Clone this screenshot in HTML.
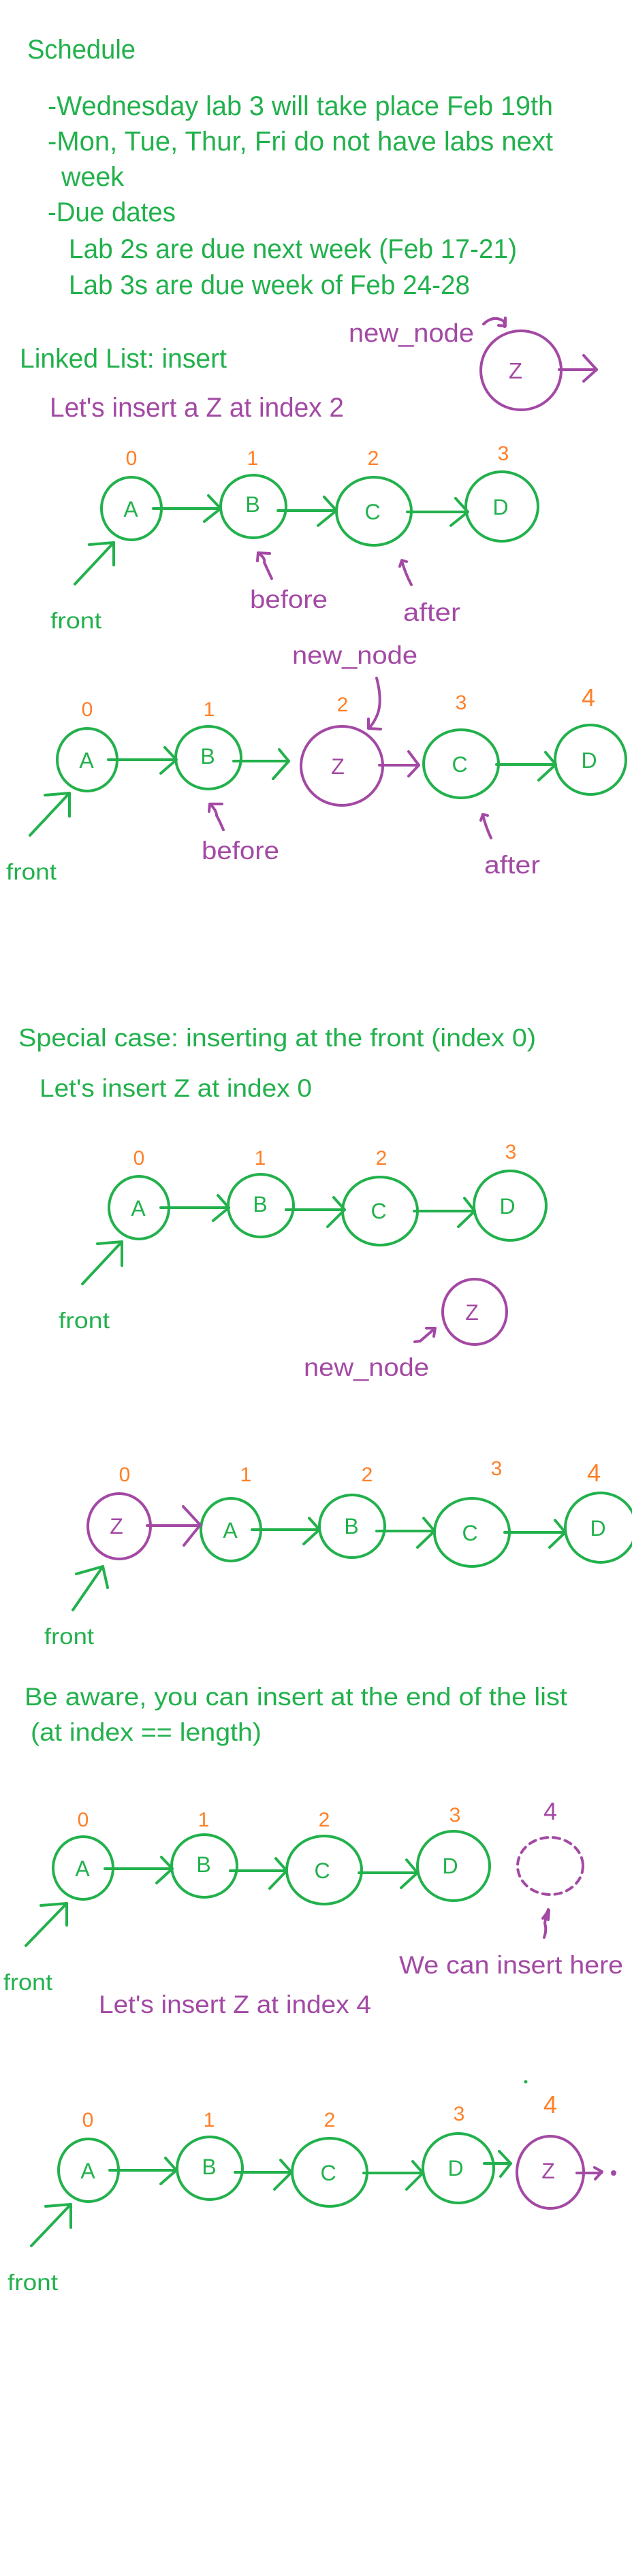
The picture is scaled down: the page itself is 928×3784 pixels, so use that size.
<!DOCTYPE html>
<html><head><meta charset="utf-8"><style>
html,body{margin:0;padding:0;background:#fff;}
svg{display:block;}
text{font-family:"Liberation Sans",sans-serif;}
.g{fill:#22b14c}.p{fill:#a349a4}.o{fill:#ff7f27}
.gs{stroke:#22b14c;stroke-width:4;fill:none;stroke-linecap:round;stroke-linejoin:round}
.ps{stroke:#a349a4;stroke-width:4;fill:none;stroke-linecap:round;stroke-linejoin:round}
</style></head><body>
<svg width="928" height="3784" viewBox="0 0 928 3784" xmlns="http://www.w3.org/2000/svg">
<!-- Schedule -->
<text class="g" x="40" y="86" font-size="40" textLength="159" lengthAdjust="spacingAndGlyphs">Schedule</text>
<text class="g" x="70" y="169" font-size="40" textLength="742" lengthAdjust="spacingAndGlyphs">-Wednesday lab 3 will take place Feb 19th</text>
<text class="g" x="70" y="221" font-size="40" textLength="742" lengthAdjust="spacingAndGlyphs">-Mon, Tue, Thur, Fri do not have labs next</text>
<text class="g" x="90" y="273" font-size="40" textLength="92" lengthAdjust="spacingAndGlyphs">week</text>
<text class="g" x="70" y="325" font-size="40" textLength="188" lengthAdjust="spacingAndGlyphs">-Due dates</text>
<text class="g" x="101" y="379" font-size="40" textLength="658" lengthAdjust="spacingAndGlyphs">Lab 2s are due next week (Feb 17-21)</text>
<text class="g" x="101" y="432" font-size="40" textLength="589" lengthAdjust="spacingAndGlyphs">Lab 3s are due week of Feb 24-28</text>

<!-- Linked list header -->
<text class="p" x="512" y="502" font-size="38" textLength="184" lengthAdjust="spacingAndGlyphs">new_node</text>
<path class="ps" d="M710,476 Q725,462 740,472 L741,480 M732,478 L742,479 L742,467" stroke-width="3"/>
<ellipse class="ps" cx="765" cy="544" rx="59" ry="58"/>
<text class="p" x="757" y="556" font-size="33" text-anchor="middle">Z</text>
<line class="ps" x1="821" y1="543" x2="876" y2="543"/>
<polyline class="ps" points="857,522 876,543 857,560"/>
<text class="g" x="29" y="540" font-size="40" textLength="304" lengthAdjust="spacingAndGlyphs">Linked List: insert</text>
<text class="p" x="73" y="612" font-size="40" textLength="432" lengthAdjust="spacingAndGlyphs">Let's insert a Z at index 2</text>

<!-- Row 1 -->
<g font-size="30" text-anchor="middle">
<text class="o" x="193" y="683">0</text><text class="o" x="371" y="683">1</text><text class="o" x="548" y="683">2</text><text class="o" x="739" y="676">3</text>
</g>
<g font-size="32" text-anchor="middle">
<text class="g" x="192" y="759">A</text><text class="g" x="371" y="752">B</text><text class="g" x="547" y="763">C</text><text class="g" x="735" y="756">D</text>
</g>
<ellipse class="gs" cx="193" cy="747" rx="44" ry="46"/>
<ellipse class="gs" cx="372" cy="744" rx="48" ry="46"/>
<ellipse class="gs" cx="549" cy="751" rx="55" ry="50"/>
<ellipse class="gs" cx="737" cy="744" rx="53" ry="51"/>
<line class="gs" x1="225" y1="747" x2="324" y2="747"/><polyline class="gs" points="306,728 324,747 300,766"/>
<line class="gs" x1="408" y1="750" x2="494" y2="750"/><polyline class="gs" points="476,730 494,750 467,772"/>
<line class="gs" x1="598" y1="752" x2="687" y2="752"/><polyline class="gs" points="669,732 687,752 662,772"/>
<line class="gs" x1="110" y1="858" x2="167" y2="797"/><polyline class="gs" points="131,800 167,797 167,830"/>
<text class="g" x="74" y="923" font-size="33" textLength="75" lengthAdjust="spacingAndGlyphs">front</text>
<path class="ps" d="M399,850 Q392,835 388,826 Q390,820 379,812 M378,824 L379,812 L396,813" stroke-width="3"/>
<text class="p" x="367" y="893" font-size="37" textLength="114" lengthAdjust="spacingAndGlyphs">before</text>
<path class="ps" d="M604,859 Q595,842 590,824 M587,832 L590,823 L597,825" stroke-width="3"/>
<text class="p" x="592" y="912" font-size="37" textLength="84" lengthAdjust="spacingAndGlyphs">after</text>

<!-- Row 2 -->
<text class="p" x="429" y="975" font-size="37" textLength="184" lengthAdjust="spacingAndGlyphs">new_node</text>
<path class="ps" d="M553,996 Q562,1030 554,1050 Q548,1064 541,1070 M541,1056 L541,1070 L559,1071" stroke-width="3"/>
<g font-size="30" text-anchor="middle">
<text class="o" x="128" y="1052">0</text><text class="o" x="307" y="1052">1</text><text class="o" x="503" y="1045">2</text><text class="o" x="677" y="1042">3</text><text class="o" x="864" y="1037" font-size="36">4</text>
</g>
<g font-size="32" text-anchor="middle">
<text class="g" x="127" y="1128">A</text><text class="g" x="305" y="1122">B</text><text class="p" x="496" y="1137">Z</text><text class="g" x="675" y="1134">C</text><text class="g" x="865" y="1128">D</text>
</g>
<ellipse class="gs" cx="128" cy="1116" rx="44" ry="46"/>
<ellipse class="gs" cx="306" cy="1113" rx="48" ry="46"/>
<ellipse class="ps" cx="502" cy="1125" rx="60" ry="58"/>
<ellipse class="gs" cx="677" cy="1122" rx="55" ry="50"/>
<ellipse class="gs" cx="867" cy="1116" rx="52" ry="51"/>
<line class="gs" x1="159" y1="1116" x2="259" y2="1116"/><polyline class="gs" points="242,1098 259,1116 236,1136"/>
<line class="gs" x1="343" y1="1118" x2="424" y2="1118"/><polyline class="gs" points="410,1101 424,1118 401,1144"/>
<line class="ps" x1="557" y1="1124" x2="615" y2="1124"/><polyline class="ps" points="600,1104 615,1124 600,1140"/>
<line class="gs" x1="729" y1="1123" x2="816" y2="1123"/><polyline class="gs" points="801,1105 816,1123 791,1146"/>
<line class="gs" x1="44" y1="1227" x2="102" y2="1165"/><polyline class="gs" points="66,1168 102,1165 102,1199"/>
<text class="g" x="9" y="1292" font-size="33" textLength="74" lengthAdjust="spacingAndGlyphs">front</text>
<path class="ps" d="M328,1219 Q322,1205 318,1198 Q318,1190 308,1181 M307,1192 L308,1181 L326,1181" stroke-width="3"/>
<text class="p" x="296" y="1262" font-size="37" textLength="114" lengthAdjust="spacingAndGlyphs">before</text>
<path class="ps" d="M721,1231 Q713,1214 709,1197 M706,1205 L709,1196 L716,1198" stroke-width="3"/>
<text class="p" x="711" y="1283" font-size="37" textLength="82" lengthAdjust="spacingAndGlyphs">after</text>

<!-- Special case -->
<text class="g" x="27" y="1537" font-size="37" textLength="760" lengthAdjust="spacingAndGlyphs">Special case: inserting at the front (index 0)</text>
<text class="g" x="58" y="1611" font-size="37" textLength="400" lengthAdjust="spacingAndGlyphs">Let's insert Z at index 0</text>
<g font-size="30" text-anchor="middle">
<text class="o" x="204" y="1711">0</text><text class="o" x="382" y="1711">1</text><text class="o" x="560" y="1711">2</text><text class="o" x="750" y="1702">3</text>
</g>
<g font-size="32" text-anchor="middle">
<text class="g" x="203" y="1786">A</text><text class="g" x="382" y="1780">B</text><text class="g" x="556" y="1790">C</text><text class="g" x="745" y="1783">D</text>
<text class="p" x="693" y="1939">Z</text>
</g>
<ellipse class="gs" cx="204" cy="1774" rx="44" ry="46"/>
<ellipse class="gs" cx="383" cy="1771" rx="48" ry="46"/>
<ellipse class="gs" cx="558" cy="1779" rx="55" ry="50"/>
<ellipse class="gs" cx="749" cy="1771" rx="53" ry="51"/>
<line class="gs" x1="236" y1="1774" x2="336" y2="1774"/><polyline class="gs" points="320,1756 336,1774 313,1793"/>
<line class="gs" x1="420" y1="1777" x2="506" y2="1777"/><polyline class="gs" points="490,1759 506,1777 481,1802"/>
<line class="gs" x1="608" y1="1779" x2="697" y2="1779"/><polyline class="gs" points="682,1760 697,1779 673,1802"/>
<line class="gs" x1="121" y1="1886" x2="179" y2="1824"/><polyline class="gs" points="143,1827 179,1824 179,1859"/>
<text class="g" x="86" y="1951" font-size="33" textLength="75" lengthAdjust="spacingAndGlyphs">front</text>
<ellipse class="ps" cx="697" cy="1927" rx="47" ry="48"/>
<path class="ps" d="M609,1971 L617,1970 L639,1951 M626,1951 L639,1951 L637,1963" stroke-width="3"/>
<text class="p" x="446" y="2021" font-size="37" textLength="184" lengthAdjust="spacingAndGlyphs">new_node</text>

<!-- Row 4 -->
<g font-size="30" text-anchor="middle">
<text class="o" x="183" y="2176">0</text><text class="o" x="361" y="2176">1</text><text class="o" x="539" y="2176">2</text><text class="o" x="729" y="2167">3</text><text class="o" x="872" y="2176" font-size="36">4</text>
</g>
<g font-size="32" text-anchor="middle">
<text class="p" x="171" y="2253">Z</text><text class="g" x="338" y="2259">A</text><text class="g" x="516" y="2253">B</text><text class="g" x="690" y="2263">C</text><text class="g" x="878" y="2256">D</text>
</g>
<ellipse class="ps" cx="175" cy="2242" rx="46" ry="48"/>
<ellipse class="gs" cx="339" cy="2247" rx="44" ry="46"/>
<ellipse class="gs" cx="517" cy="2242" rx="48" ry="46"/>
<ellipse class="gs" cx="693" cy="2251" rx="55" ry="50"/>
<ellipse class="gs" cx="882" cy="2244" rx="52" ry="51"/>
<line class="ps" x1="216" y1="2241" x2="294" y2="2241"/><polyline class="ps" points="269,2213 294,2240 270,2270"/>
<line class="gs" x1="370" y1="2247" x2="469" y2="2247"/><polyline class="gs" points="454,2230 469,2247 446,2268"/>
<line class="gs" x1="553" y1="2249" x2="638" y2="2249"/><polyline class="gs" points="622,2230 638,2249 613,2273"/>
<line class="gs" x1="741" y1="2251" x2="830" y2="2251"/><polyline class="gs" points="815,2233 830,2251 807,2273"/>
<line class="gs" x1="107" y1="2365" x2="151" y2="2301"/><polyline class="gs" points="112,2312 151,2301 158,2332"/>
<text class="g" x="65" y="2415" font-size="33" textLength="73" lengthAdjust="spacingAndGlyphs">front</text>

<text class="g" x="36" y="2505" font-size="37" textLength="797" lengthAdjust="spacingAndGlyphs">Be aware, you can insert at the end of the list</text>
<text class="g" x="45" y="2557" font-size="37" textLength="339" lengthAdjust="spacingAndGlyphs">(at index == length)</text>

<!-- Row 5 -->
<g font-size="30" text-anchor="middle">
<text class="o" x="122" y="2683">0</text><text class="o" x="299" y="2683">1</text><text class="o" x="476" y="2683">2</text><text class="o" x="668" y="2676">3</text><text class="p" x="808" y="2673" font-size="36">4</text>
</g>
<g font-size="32" text-anchor="middle">
<text class="g" x="121" y="2756">A</text><text class="g" x="299" y="2750">B</text><text class="g" x="473" y="2759">C</text><text class="g" x="661" y="2752">D</text>
</g>
<ellipse class="gs" cx="122" cy="2744" rx="44" ry="46"/>
<ellipse class="gs" cx="300" cy="2741" rx="48" ry="46"/>
<ellipse class="gs" cx="476" cy="2747" rx="55" ry="50"/>
<ellipse class="gs" cx="666" cy="2741" rx="53" ry="51"/>
<ellipse class="ps" cx="808" cy="2741" rx="48" ry="42" stroke-dasharray="10,8" stroke-width="3"/>
<line class="gs" x1="154" y1="2745" x2="253" y2="2745"/><polyline class="gs" points="237,2728 253,2745 230,2766"/>
<line class="gs" x1="338" y1="2748" x2="421" y2="2748"/><polyline class="gs" points="405,2730 421,2748 396,2774"/>
<line class="gs" x1="527" y1="2751" x2="613" y2="2751"/><polyline class="gs" points="597,2732 613,2751 589,2773"/>
<line class="gs" x1="38" y1="2858" x2="98" y2="2796"/><polyline class="gs" points="60,2799 98,2796 98,2828"/>
<path class="ps" d="M799,2846 Q803,2835 800,2825 Q802,2812 805,2805 M797,2818 L806,2806 L805,2820" stroke-width="3"/>
<text class="p" x="586" y="2899" font-size="37" textLength="329" lengthAdjust="spacingAndGlyphs">We can insert here</text>
<text class="g" x="5" y="2923" font-size="33" textLength="72" lengthAdjust="spacingAndGlyphs">front</text>
<text class="p" x="145" y="2957" font-size="37" textLength="400" lengthAdjust="spacingAndGlyphs">Let's insert Z at index 4</text>

<!-- Row 6 -->
<circle cx="772" cy="3058" r="2.5" fill="#22b14c"/>
<g font-size="30" text-anchor="middle">
<text class="o" x="129" y="3124">0</text><text class="o" x="307" y="3124">1</text><text class="o" x="484" y="3124">2</text><text class="o" x="674" y="3115">3</text><text class="o" x="808" y="3104" font-size="36">4</text>
</g>
<g font-size="32" text-anchor="middle">
<text class="g" x="129" y="3200">A</text><text class="g" x="307" y="3194">B</text><text class="g" x="482" y="3203">C</text><text class="g" x="669" y="3196">D</text><text class="p" x="805" y="3200">Z</text>
</g>
<ellipse class="gs" cx="130" cy="3188" rx="44" ry="46"/>
<ellipse class="gs" cx="308" cy="3185" rx="48" ry="46"/>
<ellipse class="gs" cx="484" cy="3191" rx="55" ry="50"/>
<ellipse class="gs" cx="673" cy="3185" rx="52" ry="51"/>
<ellipse class="ps" cx="808" cy="3191" rx="49" ry="53"/>
<line class="gs" x1="161" y1="3188" x2="259" y2="3188"/><polyline class="gs" points="243,3170 259,3188 236,3208"/>
<line class="gs" x1="345" y1="3191" x2="428" y2="3191"/><polyline class="gs" points="412,3173 428,3191 403,3216"/>
<line class="gs" x1="534" y1="3192" x2="621" y2="3192"/><polyline class="gs" points="606,3175 621,3192 597,3216"/>
<line class="gs" x1="711" y1="3178" x2="750" y2="3178"/><polyline class="gs" points="733,3160 750,3178 735,3197"/>
<line class="ps" x1="847" y1="3192" x2="883" y2="3192" stroke-width="3"/><polyline class="ps" points="873,3184 884,3190 874,3201" stroke-width="3"/>
<circle cx="901" cy="3192" r="4" fill="#a349a4"/>
<line class="gs" x1="46" y1="3299" x2="104" y2="3238"/><polyline class="gs" points="67,3241 104,3238 104,3272"/>
<text class="g" x="11" y="3364" font-size="33" textLength="74" lengthAdjust="spacingAndGlyphs">front</text>
</svg>
</body></html>
